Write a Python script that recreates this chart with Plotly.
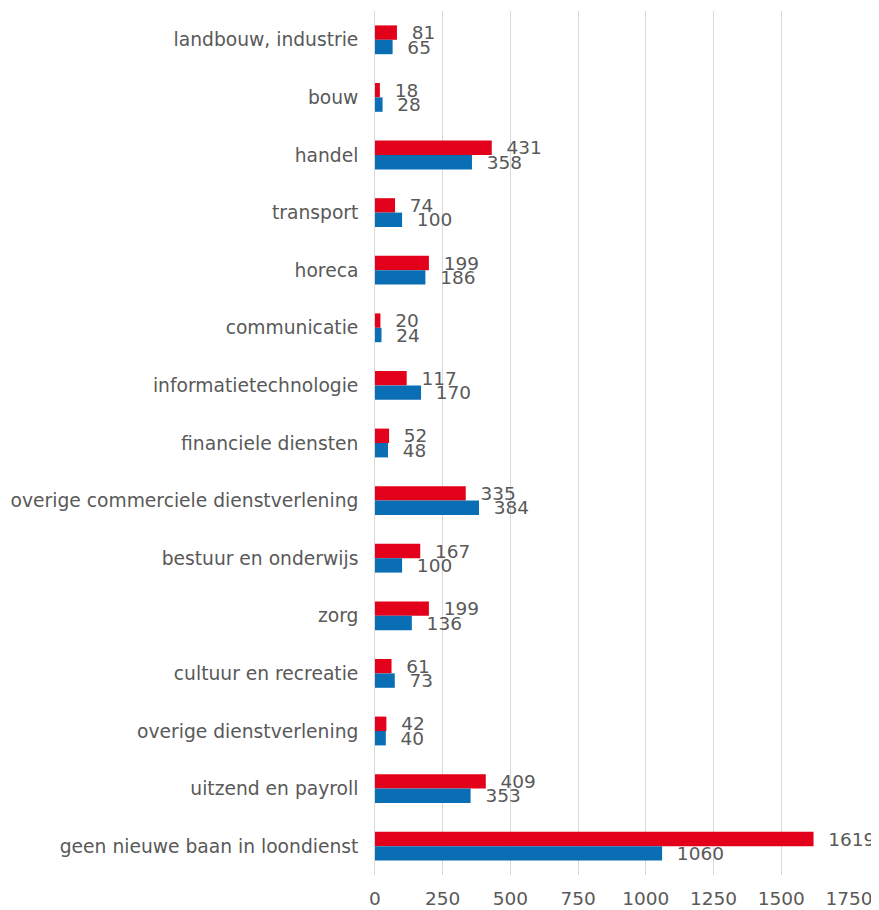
import plotly.graph_objects as go

categories = ["landbouw, industrie", "bouw", "handel", "transport", "horeca", "communicatie",
              "informatietechnologie", "financiele diensten", "overige commerciele dienstverlening",
              "bestuur en onderwijs", "zorg", "cultuur en recreatie", "overige dienstverlening",
              "uitzend en payroll", "geen nieuwe baan in loondienst"]
red_values = [81, 18, 431, 74, 199, 20, 117, 52, 335, 167, 199, 61, 42, 409, 1619]
blue_values = [65, 28, 358, 100, 186, 24, 170, 48, 384, 100, 136, 73, 40, 353, 1060]
x_ticks = [0, 250, 500, 750, 1000, 1250, 1500, 1750]

font_family = "DejaVu Sans, Verdana, sans-serif"
grey = "#595959"

fig = go.Figure()
for vals, col in ((red_values, "#E2001A"), (blue_values, "#0A6EB4")):
    fig.add_trace(go.Bar(y=categories, x=vals, orientation="h",
                         marker_color=col, marker_line_width=0,
                         text=vals, texttemplate="  %{text}", textposition="outside",
                         constraintext="none",
                         textfont=dict(size=18.5, color=grey, family=font_family),
                         cliponaxis=False))

fig.update_layout(
    width=871, height=902,
    barmode="group", bargap=0.5, bargroupgap=0,
    showlegend=False,
    plot_bgcolor="white", paper_bgcolor="white",
    margin=dict(l=367, r=30, t=3, b=35),
    font=dict(family=font_family, color=grey, size=18),
)
fig.update_yaxes(autorange="reversed", ticks="", showline=True, linecolor="#D9D9D9",
                 tickfont=dict(size=18.7, color=grey), ticksuffix="  ", automargin=False)
fig.update_xaxes(range=[0, 1750], tickvals=x_ticks, showgrid=True, gridcolor="#D9D9D9",
                 zeroline=False, tickfont=dict(size=18.5, color=grey), automargin=False,
                 ticklabelstandoff=10)

fig.write_html("out.html")
